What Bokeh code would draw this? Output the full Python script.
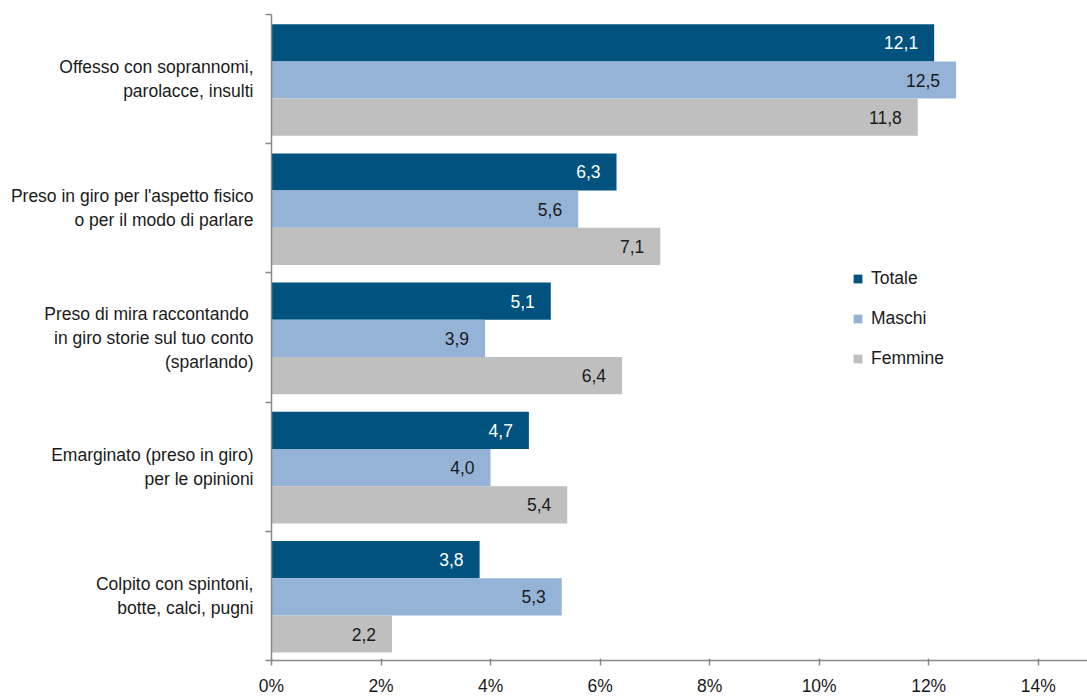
import numpy as np
from bokeh.plotting import figure
from bokeh.models import (Range1d, FixedTicker, PrintfTickFormatter, Legend, LegendItem,
                          ColumnDataSource)
from bokeh.core.properties import value
from bokeh.embed import file_html
from bokeh.resources import INLINE

categories = [
    "Offesso con soprannomi,\nparolacce, insulti",
    "Preso in giro per l'aspetto fisico\no per il modo di parlare",
    "Preso di mira  raccontando\nin giro storie sul tuo conto\n(sparlando)",
    "Emarginato (preso in giro)\nper le opinioni",
    "Colpito con spintoni,\nbotte, calci, pugni",
]
series = ["Totale", "Maschi", "Femmine"]
totale = [12.1, 6.3, 5.1, 4.7, 3.8]
maschi = [12.5, 5.6, 3.9, 4.0, 5.3]
femmine = [11.8, 7.1, 6.4, 5.4, 2.2]
x_ticks = [0, 2, 4, 6, 8, 10, 12, 14]

colors = ["#01527F", "#95B3D7", "#BFBFBF"]
label_colors = ["#FFFFFF", "#1A1A1A", "#1A1A1A"]
FONT = "Liberation Sans"
FS = "17.5px"
GRAY = "#898989"

p = figure(width=1087, height=698, output_backend="svg", toolbar_location=None,
           x_range=Range1d(0, 14.9), y_range=Range1d(5, 0),
           min_border_left=271, min_border_right=0, min_border_top=14, min_border_bottom=37)
p.outline_line_color = None
p.xgrid.visible = False
p.ygrid.visible = False
p.background_fill_color = "white"
p.border_fill_color = "white"

bar_h = 0.288
offsets = [-bar_h, 0.0, bar_h]
base = np.arange(len(categories)) + 0.5 + 0.007
renderers = []
for vals, off, col, lcol in zip([totale, maschi, femmine], offsets, colors, label_colors):
    src = ColumnDataSource(dict(
        y=base + off,
        v=vals,
        t=[f"{v:.1f}".replace(".", ",") for v in vals],
    ))
    r = p.hbar(y="y", right="v", left=0, height=bar_h, source=src,
               fill_color=col, line_color=None)
    renderers.append(r)
    p.text(x="v", y="y", text="t", source=src, text_align="right", text_baseline="middle",
           x_offset=-16, text_color=lcol, text_font=value(FONT), text_font_size=FS)

# x axis
xa = p.xaxis[0]
xa.ticker = FixedTicker(ticks=x_ticks)
xa.formatter = PrintfTickFormatter(format="%d%%")
xa.axis_line_color = GRAY
xa.axis_line_width = 1.5
xa.major_tick_line_color = GRAY
xa.major_tick_line_width = 1.5
xa.major_tick_out = 5
xa.major_tick_in = 2
xa.minor_tick_line_color = None
xa.major_label_standoff = 10
xa.major_label_text_font = FONT
xa.major_label_text_font_size = FS
xa.major_label_text_color = "#1A1A1A"

# y axis
ya = p.yaxis[0]
centers = [i + 0.5 for i in range(len(categories))]
ya.ticker = FixedTicker(ticks=centers, minor_ticks=list(range(len(categories) + 1)))
ya.major_label_overrides = {c: lab for c, lab in zip(centers, categories)}
ya.axis_line_color = GRAY
ya.axis_line_width = 1.5
ya.major_tick_line_color = None
ya.minor_tick_line_color = GRAY
ya.minor_tick_line_width = 1.5
ya.minor_tick_out = 6
ya.minor_tick_in = 0
ya.major_label_standoff = 12
ya.major_label_text_font = FONT
ya.major_label_text_font_size = FS
ya.major_label_text_color = "#1A1A1A"

legend = Legend(items=[LegendItem(label=s, renderers=[r]) for s, r in zip(series, renderers)],
                location=(581, 291), orientation="vertical",
                glyph_width=11, glyph_height=11, label_standoff=8,
                spacing=19, padding=0, margin=0,
                label_text_font=FONT, label_text_font_size=FS, label_text_color="#1A1A1A",
                border_line_color=None, background_fill_alpha=0)
p.add_layout(legend, "center")

open("out.html", "w").write(file_html(p, INLINE))
